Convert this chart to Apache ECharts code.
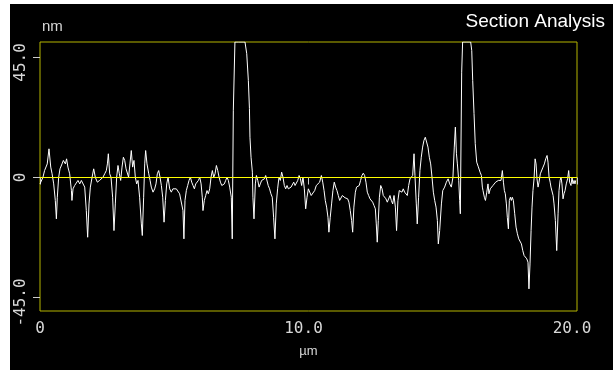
<!DOCTYPE html>
<html>
<head>
<meta charset="utf-8">
<script src="https://cdn.jsdelivr.net/npm/echarts@6/dist/echarts.min.js"></script>
<style>
  html, body { margin: 0; padding: 0; background: #fff; }
  .frame { position: relative; width: 613px; height: 370px; overflow: hidden; }
  #chart { position: absolute; left: 10px; top: 4px; width: 603px; height: 366px; background: #000; }
</style>
</head>
<body>
<div class="frame"><div id="chart"></div></div>
<script>
  // profile, [position in µm, height in nm]
  const segA = [[0,-2.4],[0.03,-3.0],[0.11,0.1],[0.17,2.6],[0.27,5.1],[0.335,10.75],[0.40,3.9],[0.45,1.4],[0.51,-2.4],[0.57,-8.6],[0.61,-15.5],[0.645,-7.4],[0.695,0.1],[0.745,3.25],[0.82,5.1],[0.87,6.4],[0.945,5.1],[0.99,7.0],[1.04,3.9],[1.105,1.4],[1.17,-4.9],[1.19,-8.6],[1.23,-4.25],[1.29,-3.0],[1.35,-2.4],[1.415,-1.1],[1.48,-2.4],[1.54,-1.1],[1.60,-1.75],[1.665,-3.6],[1.725,-12.4],[1.775,-22.4],[1.825,-9.9],[1.875,-3.6],[1.94,0.1],[2.0,3.25],[2.06,0.1],[2.135,-1.75],[2.22,-1.1],[2.285,-1.1],[2.345,0.1],[2.41,1.4],[2.47,2.6],[2.51,5.1],[2.545,8.9],[2.595,1.4],[2.645,0.1],[2.705,-7.4],[2.755,-19.9],[2.805,-9.9],[2.855,0.1],[2.905,4.5],[2.955,1.4],[3.005,-1.1],[3.055,3.9],[3.105,7.6],[3.155,6.4],[3.205,3.25],[3.25,3.9],[3.30,0.1],[3.35,5.1],[3.40,10.1],[3.45,3.9],[3.50,6.4],[3.55,0.1],[3.60,-2.4],[3.65,-1.1],[3.71,-7.4],[3.775,-17.4],[3.81,-21.75],[3.86,-7.4],[3.90,5.1],[3.935,10.1],[3.985,5.1],[4.05,1.4],[4.10,-1.1],[4.145,-3.6],[4.21,-5.5],[4.27,-4.25],[4.32,-2.4],[4.37,1.4],[4.42,2.6],[4.47,0.1],[4.52,-3.0],[4.57,-7.4],[4.62,-16.75],[4.67,-8.6],[4.72,-2.4],[4.77,0.1],[4.83,-4.25],[4.89,-5.5]]
  const segB = [[4.95,-4.25],[5.015,-4.9],[5.077,-4.25],[5.14,-4.9],[5.20,-6.1],[5.26,-6.75],[5.325,-12.4],[5.36,-23],[5.40,-8.6],[5.45,-4.9],[5.50,-3.0],[5.55,-1.1],[5.60,0.1],[5.65,-1.75],[5.70,-3.0],[5.75,-4.25],[5.80,-2.4],[5.85,-2.4],[5.90,-1.1],[5.95,0.1],[6.00,-2.4],[6.045,-7.4],[6.07,-12.4],[6.12,-8.6],[6.17,-6.75],[6.22,-4.9],[6.27,-6.1],[6.32,-4.25],[6.37,0.1],[6.42,2.6],[6.47,0.1],[6.52,1.4],[6.57,4.5],[6.62,2.6],[6.67,0.1],[6.72,-1.75],[6.77,-3.0],[6.815,-3.0],[6.865,-2.4],[6.915,-1.1],[6.965,0.1],[7.015,-1.1],[7.065,-3.6],[7.125,-7.4],[7.16,-23],[7.20,25],[7.26,50.8],[7.40,50.8],[7.635,50.8],[7.70,46.4],[7.76,36.4],[7.80,25.9],[7.82,15.1],[7.86,7.6],[7.91,2.0],[7.93,-7.4],[7.97,-15.5],[8.02,-2.4],[8.06,0.75],[8.11,-1.1],[8.16,-3.6],[8.205,-2.4],[8.255,-1.1],[8.305,-1.75],[8.355,-0.5],[8.405,0.75],[8.455,0.1],[8.50,-3.0],[8.55,-4.25],[8.60,-6.1],[8.65,-7.4],[8.70,-14.9],[8.75,-23],[8.80,-9.9],[8.85,-4.25],[8.90,0.1],[8.95,-1.1],[9.00,2.0],[9.05,0.1],[9.10,-3.0],[9.15,-4.25],[9.20,-3.0],[9.25,-4.25],[9.30,-4.9],[9.35,-3.6],[9.40,-4.25],[9.45,-1.75],[9.50,-3.0],[9.55,-2.4],[9.60,-1.1],[9.65,0.75],[9.70,-0.5],[9.745,-3.0],[9.795,0.1],[9.845,-4.25],[9.895,-11.75],[9.945,-7.4],[9.995,-4.25]]
  const segC = [[10.04,-4.9],[10.10,-6.75],[10.165,-7.4],[10.23,-4.9],[10.29,-3.0],[10.35,-2.4],[10.415,-1.75],[10.48,0.75],[10.53,-1.75],[10.58,-4.9],[10.625,-8.6],[10.675,-11.1],[10.725,-14.9],[10.76,-20.5],[10.81,-14.9],[10.86,-9.9],[10.91,-4.9],[10.96,-1.75],[11.01,-3.6],[11.06,-4.9],[11.11,-6.75],[11.16,-8.6],[11.21,-8.0],[11.26,-6.75],[11.31,-7.4],[11.36,-7.6],[11.41,-7.4],[11.46,-8.0],[11.505,-9.25],[11.555,-12.4],[11.605,-16.1],[11.645,-20.5],[11.69,-11.1],[11.745,-5.5],[11.79,-3.6],[11.84,-4.25],[11.89,-3.0],[11.94,-1.1],[11.99,0.75],[12.04,1.6],[12.09,0.75],[12.14,-1.75],[12.19,-5.5],[12.24,-6.75],[12.29,-8.0],[12.34,-8.6],[12.39,-9.25],[12.44,-10.5],[12.49,-11.75],[12.525,-17.4],[12.56,-24.25],[12.60,-16.1],[12.64,-7.4],[12.69,-3.0],[12.74,-4.25],[12.785,-6.75],[12.835,-6.75],[12.885,-8.0],[12.935,-9.25],[12.985,-8.6],[13.035,-6.75],[13.085,-8.6],[13.135,-9.9],[13.185,-6.75],[13.235,-11.1],[13.28,-19.9],[13.33,-8.6],[13.38,-4.9],[13.43,-4.25],[13.48,-5.5],[13.53,-4.25],[13.58,-5.5],[13.63,-5.5],[13.68,-6.75],[13.73,-3.0],[13.78,-0.5],[13.83,-1.1],[13.88,0.75],[13.93,8.9],[13.965,0.75],[14.015,-9.9],[14.05,-17.4],[14.10,-7.4],[14.15,2.6],[14.20,7.6],[14.25,11.4],[14.30,13.9],[14.35,15.1],[14.40,14.5],[14.45,11.4],[14.50,7.6],[14.55,5.1],[14.60,0.1],[14.65,-5.5],[14.70,-8.6],[14.75,-11.1],[14.80,-16.1],[14.835,-24.9],[14.885,-19.9],[14.95,-9.9],[15.0,-4.9]]
  const segD = [[15.07,-3.6],[15.135,-1.75],[15.20,-0.5],[15.26,-2.4],[15.32,-3.6],[15.38,0.1],[15.43,11.4],[15.47,18.9],[15.51,8.9],[15.545,5.1],[15.595,-1.1],[15.63,-8.6],[15.655,-13.6],[15.705,39.5],[15.74,50.8],[15.9,50.8],[16.04,50.8],[16.08,47.6],[16.115,36.4],[16.165,24],[16.21,12.7],[16.265,5.75],[16.325,4.0],[16.39,2.0],[16.44,0.75],[16.475,-3.6],[16.50,-4.9],[16.55,-7.4],[16.59,-8.6],[16.64,-5.5],[16.685,-2.4],[16.72,-6.1],[16.77,-4.25],[16.82,-4.9],[16.87,-3.0],[16.92,-3.6],[16.97,-1.75],[17.02,-2.4],[17.07,-1.1],[17.12,-0.5],[17.17,-1.1],[17.22,2.6],[17.26,-1.75],[17.295,-4.9],[17.33,-6.1],[17.37,-9.9],[17.405,-14.9],[17.445,-19.25],[17.48,-8.6],[17.52,-7.4],[17.555,-8.6],[17.59,-7.4],[17.63,-8.6],[17.68,-13.6],[17.73,-18.6],[17.78,-21.1],[17.83,-23.0],[17.88,-23.6],[17.93,-24.9],[17.98,-27.4],[18.03,-29.25],[18.08,-28.6],[18.13,-30.5],[18.175,-31.75],[18.21,-41.75],[18.25,-32.4],[18.29,-19.9],[18.325,-11.1],[18.36,-4.9],[18.40,-0.5],[18.44,7.0],[18.475,5.1],[18.51,-0.5],[18.55,-3.6],[18.585,-1.75],[18.635,1.4],[18.685,2.0],[18.735,3.9],[18.785,5.1],[18.835,7.0],[18.885,8.25],[18.92,5.75],[18.96,0.1],[19.0,-1.75],[19.03,-3.6],[19.07,-3.0],[19.11,-6.75],[19.145,-9.9],[19.195,-16.1],[19.245,-27.4],[19.295,-13.6],[19.33,-4.9],[19.37,-1.1],[19.405,0.1],[19.44,-2.4],[19.48,-8.0],[19.515,-6.1],[19.555,-4.9],[19.60,-2.4],[19.65,-0.5],[19.69,2.6],[19.725,-1.75],[19.775,-3.0],[19.815,0.1],[19.85,-2.4],[19.89,-1.1],[19.925,-2.4],[19.95,-1.1]]

  const xTicks = [0, 10, 20]
  const yTicks = [-45, 0, 45]
  const zeroLine = [[0, 0], [20, 0]]

  const profile = segA.concat(segB, segC, segD)

  const mono = 'DejaVu Sans Mono'
  const labelColor = '#d8d8d8'
  const richLabels = {
    d: {fontFamily: mono, fontSize: 16, color: labelColor, padding: [0, 10, 0, 0]},
    z: {fontFamily: mono, fontSize: 16, color: labelColor}
  }
  const fmt = v => v === 0 ? '{z|0}' : '{d|' + v.toFixed(1) + '}'

  const chart = echarts.init(document.getElementById('chart'))
  chart.setOption({
    backgroundColor: '#000',
    animation: false,
    title: {
      text: 'Section Analysis',
      right: 8,
      top: 8,
      padding: 0,
      textStyle: {color: '#fff', fontSize: 19, fontWeight: 'normal', fontFamily: 'Liberation Sans'}
    },
    grid: {
      left: 30, top: 38, width: 537, height: 269,
      show: true, borderColor: '#b4b400', borderWidth: 1, backgroundColor: 'transparent'
    },
    xAxis: {
      type: 'value', min: 0, max: 20, interval: 10,
      name: 'µm', nameLocation: 'middle', nameGap: 34,
      nameTextStyle: {color: labelColor, fontSize: 13, fontFamily: 'Liberation Sans'},
      axisLine: {show: false},
      splitLine: {show: false},
      axisTick: {show: true, customValues: xTicks, length: 7, lineStyle: {color: '#cccccc'}},
      axisLabel: {customValues: xTicks, margin: 10, formatter: fmt, rich: richLabels}
    },
    yAxis: {
      type: 'value', min: -50.05, max: 50.8,
      name: 'nm', nameLocation: 'end', nameGap: 8,
      nameTextStyle: {color: labelColor, fontSize: 15, fontFamily: 'Liberation Sans', align: 'left', verticalAlign: 'bottom', padding: [0, 0, 0, 2]},
      axisLine: {show: false},
      splitLine: {show: false},
      axisTick: {show: true, customValues: yTicks, length: 7, lineStyle: {color: '#cccccc'}},
      axisLabel: {customValues: yTicks, rotate: 90, margin: 11, formatter: fmt, rich: richLabels}
    },
    series: [
      {
        name: 'profile',
        type: 'line',
        data: profile,
        showSymbol: false,
        clip: true,
        z: 2,
        lineStyle: {color: '#ffffff', width: 1},
        emphasis: {disabled: true}
      },
      {
        name: 'zero',
        type: 'line',
        data: zeroLine,
        showSymbol: false,
        silent: true,
        z: 3,
        lineStyle: {color: '#ffff00', width: 1}
      }
    ]
  })
</script>
</body>
</html>
